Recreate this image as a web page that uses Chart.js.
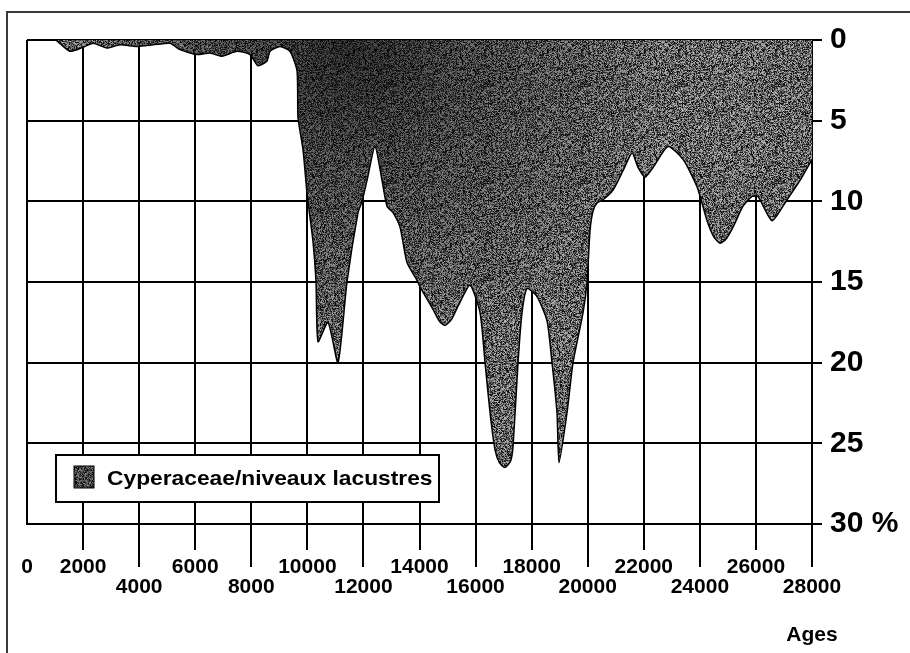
<!DOCTYPE html>
<html>
<head>
<meta charset="utf-8">
<script src="https://cdn.jsdelivr.net/npm/chart.js@4.4.0/dist/chart.umd.min.js"></script>
<style>
  html, body { margin: 0; padding: 0; background: #fff; }
  #wrap { position: relative; width: 910px; height: 653px; overflow: hidden; }
  #frame { position: absolute; left: 6px; top: 11px; width: 920px; height: 660px;
           border-top: 2px solid #3a3a3a; border-left: 2px solid #3a3a3a; }
  #c { position: absolute; left: 0; top: 0; }
</style>
</head>
<body>
<div id="wrap">
  <div id="frame"></div>
  <canvas id="c" width="910" height="653"></canvas>
</div>
<script>
// Ages (years) and Cyperaceae percentage, read along the profile
const ages = [
  0, 1000, 1070, 1534, 1998, 2354, 2854, 3317, 3924, 4494, 5101, 5458, 6064, 6528,
  6956, 7491, 7954, 8240, 8561, 8668, 9025, 9381, 9631, 9667, 9845, 9988, 10095,
  10202, 10309, 10380, 10737, 11094, 11414, 11807, 11950, 12128, 12413, 12663,
  12841, 13055, 13305, 13555, 13912, 14019, 14482, 14700, 14910, 15150, 15374,
  15802, 16159, 16338, 16516, 16694, 16850, 17050, 17250, 17336, 17514, 17657,
  17835, 18192, 18548, 18727, 18905, 18976, 19262, 19476, 19833, 19976, 20083,
  20190, 20332, 20546, 20903, 21260, 21581, 21795, 22044, 22330, 22865, 23400,
  23899, 24256, 24500, 24720, 24950, 25183, 25540, 25861, 26075, 26574, 27109,
  27573, 28000
];
const cyperaceae = [
  0, 0, 0.05, 0.7, 0.45, 0.2, 0.5, 0.3, 0.4, 0.3, 0.2, 0.6, 0.9, 0.8,
  1.0, 0.7, 0.9, 1.6, 1.3, 0.7, 0.4, 0.7, 1.9, 4.8, 6.8, 9.5, 11.0,
  12.5, 15.0, 18.7, 17.5, 20.0, 15.0, 10.7, 10.0, 8.7, 6.6, 8.7,
  10.3, 10.7, 11.6, 13.8, 14.9, 15.3, 16.7, 17.4, 17.7, 17.3, 16.5,
  15.2, 16.9, 20.0, 23.1, 25.4, 26.2, 26.5, 26.1, 25.2, 20.0, 16.9,
  15.4, 15.9, 17.4, 20.0, 23.1, 26.2, 23.1, 20.0, 16.9, 15.0, 11.8,
  10.6, 10.1, 9.9, 9.3, 8.1, 7.0, 7.9, 8.5, 7.9, 6.6, 7.4,
  9.1, 11.2, 12.2, 12.6, 12.3, 11.6, 10.3, 9.7, 9.7, 11.2, 9.9,
  8.7, 7.4
];

// Axis ticks
const ageTicks = [0, 2000, 4000, 6000, 8000, 10000, 12000, 14000, 16000, 18000, 20000, 22000, 24000, 26000, 28000];
const lowerRowTicks = [4000, 8000, 12000, 16000, 20000, 24000, 28000];
const percentTicks = [0, 5, 10, 15, 20, 25, 30];
const percentLabels = ['0', '5', '10', '15', '20', '25', '30 %'];

const seriesLabel = 'Cyperaceae/niveaux lacustres';
const axisTitle = 'Ages';

const FONT = '"Liberation Sans", Arial, Helvetica, sans-serif';

// Grainy grey texture used for the filled area
function makeGrain(size) {
  const cv = document.createElement('canvas');
  cv.width = size; cv.height = size;
  const g = cv.getContext('2d');
  const img = g.createImageData(size, size);
  const hash = (n) => { const s = Math.sin(n * 12.9898 + 78.233) * 43758.5453; return s - Math.floor(s); };
  for (let yy = 0; yy < size; yy++) {
    for (let xx = 0; xx < size; xx++) {
      const i = yy * size + xx;
      const a = hash(i * 1.37 + 0.5);
      const b = hash(i * 0.71 + 9.1);
      let v = 40 + 150 * a;
      if (b < 0.2) v = 15 + 30 * b;
      const k = i * 4;
      img.data[k] = img.data[k + 1] = img.data[k + 2] = v;
      img.data[k + 3] = 255;
    }
  }
  g.putImageData(img, 0, 0);
  return g.createPattern(cv, 'repeat');
}
const grain = makeGrain(97);

// Darker shading towards the top of the profile, strongest around the 10–14 ka drop
function shade(context) {
  const area = context.chart.chartArea;
  if (!area) return 'rgba(0,0,0,0)';
  const ctx = context.chart.ctx;
  const xs = context.chart.scales.x;
  const cx = xs.getPixelForValue(11500);
  const gr = ctx.createRadialGradient(cx, area.top + 10, 10, cx, area.top + 10, 330);
  gr.addColorStop(0, 'rgba(0,0,0,0.6)');
  gr.addColorStop(0.35, 'rgba(0,0,0,0.35)');
  gr.addColorStop(1, 'rgba(0,0,0,0)');
  return gr;
}

const points = ages.map((a, i) => ({ x: a, y: cyperaceae[i] }));

const decorations = {
  id: 'decorations',
  afterDraw(chart) {
    const { ctx, chartArea, scales } = chart;
    const xs = scales.x;
    const base = chartArea.bottom;
    ctx.save();
    // tick strokes below the plot, longer for the lower label row
    ctx.strokeStyle = '#000';
    ctx.lineWidth = 2;
    ageTicks.forEach((v) => {
      if (v === 0) return;
      const px = Math.round(xs.getPixelForValue(v));
      const len = lowerRowTicks.includes(v) ? 43 : 26;
      ctx.beginPath();
      ctx.moveTo(px, base);
      ctx.lineTo(px, base + len);
      ctx.stroke();
    });
    // axis title
    ctx.fillStyle = '#000';
    ctx.font = 'bold 21px ' + FONT;
    ctx.textAlign = 'center';
    ctx.textBaseline = 'middle';
    ctx.fillText(axisTitle, xs.getPixelForValue(28000), 635);
    // legend box
    const lx = 56, ly = 455, lw = 383, lh = 47;
    ctx.fillStyle = '#fff';
    ctx.fillRect(lx, ly, lw, lh);
    ctx.lineWidth = 2;
    ctx.strokeStyle = '#000';
    ctx.strokeRect(lx, ly, lw, lh);
    ctx.fillStyle = grain;
    ctx.fillRect(lx + 18, ly + 11, 20, 22);
    ctx.fillStyle = 'rgba(0,0,0,0.25)';
    ctx.fillRect(lx + 18, ly + 11, 20, 22);
    ctx.lineWidth = 1;
    ctx.strokeRect(lx + 18, ly + 11, 20, 22);
    ctx.fillStyle = '#000';
    ctx.font = 'bold 21px ' + FONT;
    ctx.textAlign = 'left';
    ctx.translate(lx + 51, ly + 24);
    ctx.scale(1.085, 1);
    ctx.fillText(chart.data.datasets[0].label, 0, 0);
    ctx.restore();
  }
};

new Chart(document.getElementById('c'), {
  type: 'line',
  data: {
    datasets: [{
      label: seriesLabel,
      data: points,
      fill: 'origin',
      backgroundColor: grain,
      borderColor: '#000',
      borderWidth: 1.5,
      pointRadius: 0,
      tension: 0.2,
      order: 2
    }, {
      label: 'shade',
      data: points,
      fill: 'origin',
      backgroundColor: shade,
      borderWidth: 0,
      pointRadius: 0,
      tension: 0.2,
      order: 1
    }]
  },
  options: {
    responsive: false,
    animation: false,
    devicePixelRatio: 1,
    layout: { padding: { left: 27, top: 40, right: 0, bottom: 0 } },
    plugins: { legend: { display: false }, tooltip: { enabled: false } },
    scales: {
      x: {
        type: 'linear',
        min: 0, max: 28000,
        afterFit(s) { s.height = 129; s.paddingLeft = 0; s.paddingRight = 0; },
        afterBuildTicks(s) { s.ticks = ageTicks.map(v => ({ value: v })); },
        ticks: {
          autoSkip: false, maxRotation: 0, minRotation: 0,
          padding: 33,
          color: '#000',
          font: { family: FONT, size: 21, weight: 'bold', lineHeight: 0.95 },
          callback: (v) => lowerRowTicks.includes(v) ? ['', String(v)] : String(v)
        },
        grid: { color: '#000', lineWidth: 2, drawTicks: false },
        border: { display: true, color: '#000', width: 2 }
      },
      y: {
        type: 'linear',
        position: 'right',
        reverse: true,
        min: 0, max: 30,
        afterFit(s) { s.width = 98; },
        afterBuildTicks(s) { s.ticks = percentTicks.map(v => ({ value: v })); },
        ticks: {
          padding: 8,
          color: '#000',
          font: { family: FONT, size: 30, weight: 'bold' },
          callback: (v) => percentLabels[percentTicks.indexOf(v)]
        },
        grid: { color: '#000', lineWidth: 2, drawTicks: true, tickLength: 10, tickColor: '#000' },
        border: { display: true, color: '#000', width: 2 }
      }
    }
  },
  plugins: [decorations]
});
</script>
</body>
</html>
